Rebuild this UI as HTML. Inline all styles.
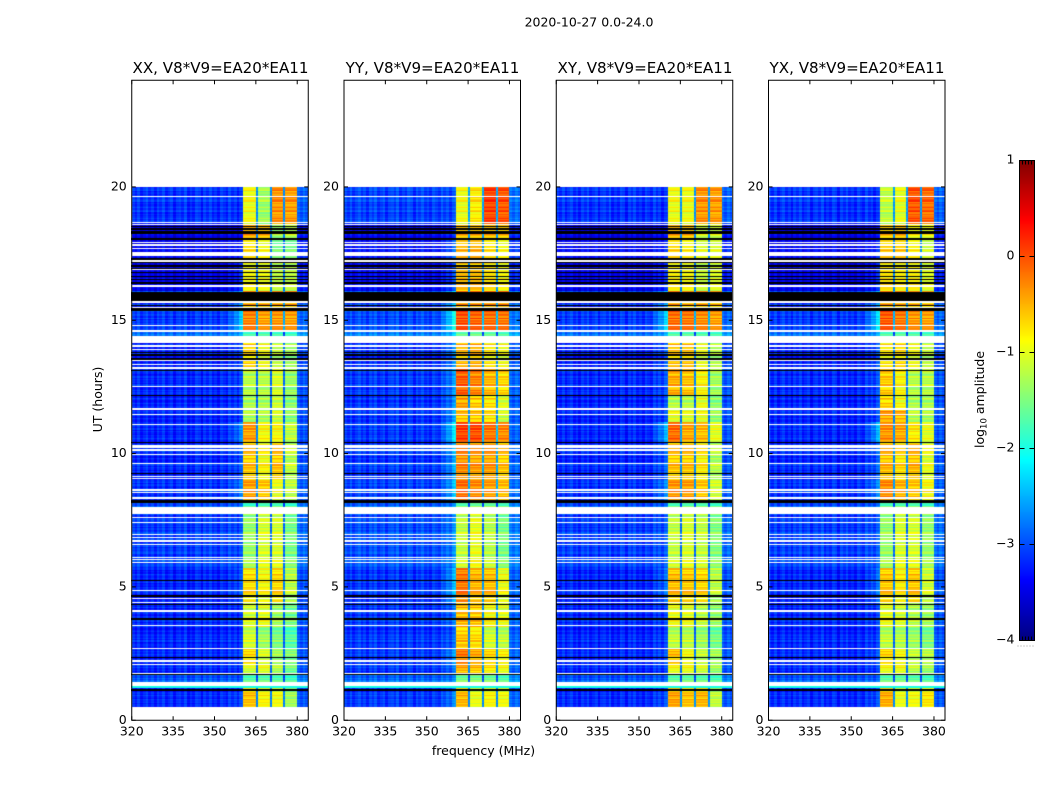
<!DOCTYPE html>
<html lang="en">
<head>
<meta charset="utf-8">
<title>2020-10-27 0.0-24.0 dynamic spectra</title>
<style>
html,body{margin:0;padding:0;background:#fff;}
#figure{position:relative;width:1050px;height:800px;overflow:hidden;background:#fff;}
canvas{position:absolute;display:block;}
svg{position:absolute;left:0;top:0;}
text{font-family:"DejaVu Sans","Liberation Sans",sans-serif;fill:#000;}
</style>
</head>
<body>
<div id="figure">
<canvas id="heat0"></canvas>
<canvas id="heat1"></canvas>
<canvas id="heat2"></canvas>
<canvas id="heat3"></canvas>
<canvas id="cbar"></canvas>
<svg id="overlay" width="1050" height="800" viewBox="0 0 1050 800">
<text x="589" y="26.5" font-size="12.5" text-anchor="middle">2020-10-27 0.0-24.0</text>
<text x="220.5" y="73" font-size="15.1" text-anchor="middle">XX, V8*V9=EA20*EA11</text>
<text x="432.5" y="73" font-size="15.1" text-anchor="middle">YY, V8*V9=EA20*EA11</text>
<text x="645" y="73" font-size="15.1" text-anchor="middle">XY, V8*V9=EA20*EA11</text>
<text x="857" y="73" font-size="15.1" text-anchor="middle">YX, V8*V9=EA20*EA11</text>
<text x="483.5" y="755" font-size="12.5" text-anchor="middle">frequency (MHz)</text>
<text transform="translate(102,399.5) rotate(-90)" font-size="12.5" text-anchor="middle">UT (hours)</text>
<text transform="translate(984,399.5) rotate(-90)" font-size="12.5" text-anchor="middle">log<tspan font-size="8.5" dy="2.5">10</tspan><tspan dy="-2.5"> amplitude</tspan></text>
</svg>
</div>
<script>
// ---------- Chart data ----------
const panelNames = ['xx', 'yy', 'xy', 'yx'];
const xTicks = [320, 335, 350, 365, 380];
const yTicks = [0, 5, 10, 15, 20];
const colorTicks = [1, 0, -1, -2, -3, -4];

// Start hour of each time segment; the panel level tables below have one row per segment.
const segmentStart = [0.5,1.1,1.42,1.75,2.1,2.7,3.5,4.4,5.7,7.75,8.0,8.25,9.0,10.4,11.2,11.7,12.2,13.2,14.15,14.4,14.6,15.4,16.1,17.2,18.0,18.6];

// log10 amplitude of each of the four sub-bands, per segment.
const xxLevels = [[-.6,-.88,-.95,-1.35],[-.6,-.88,-.95,-1.35],[-1.75,-1.7,-1.75,-1.85],[-1.1,-1.0,-1.25,-1.55],[-.75,-1.1,-1.35,-1.5],[-1.1,-1.35,-1.5,-1.7],[-1.1,-1.0,-1.35,-1.55],[-.72,-.88,-.68,-1.2],[-1.4,-1.1,-1.1,-1.55],[-1.4,-1.1,-1.1,-1.55],[-1.8,-1.7,-1.7,-1.8],[-.4,-.6,-1.0,-1.2],[-.6,-.88,-.6,-1.2],[-.4,-.88,-.88,-1.2],[-1.25,-1.25,-1.1,-1.4],[-1.25,-1.25,-1.1,-1.4],[-1.25,-1.25,-1.1,-1.4],[-.7,-.95,-1.2,-1.35],[-.7,-.95,-1.2,-1.35],[-1.65,-1.6,-1.65,-1.7],[-.25,-.4,-.35,-.4],[-.45,-.45,-.45,-.45],[-.95,-1.0,-1.25,-1.25],[-.7,-.88,-1.5,-1.5],[-.45,-.55,-1.35,-1.2],[-.95,-1.35,-.35,-.4]];
const yyLevels = [[-.55,-1.0,-.88,-.95],[-.55,-1.0,-.88,-.95],[-1.6,-1.55,-1.6,-1.75],[-.5,-.6,-.8,-.95],[-.25,-.5,-.72,-.88],[-.6,-.72,-1.1,-1.2],[-.55,-.6,-.88,-1.0],[-.2,-.5,-.55,-.95],[-1.2,-1.0,-1.25,-1.55],[-1.2,-1.0,-1.25,-1.55],[-1.65,-1.55,-1.55,-1.7],[-.15,-.3,-.4,-.55],[-.3,-.4,-.4,-.6],[.05,0,-.2,-.3],[-.55,-.6,-.72,-1.1],[-.4,-.6,-.72,-1.0],[-.1,-.3,-.55,-.72],[-.55,-.5,-.8,-.95],[-.55,-.5,-.8,-.95],[-1.5,-1.45,-1.5,-1.6],[0,-.1,-.15,-.2],[-.35,-.35,-.35,-.35],[-.6,-.6,-.8,-.95],[-.5,-.45,-.72,-.88],[-.55,-.55,-.55,-.6],[-.95,-.8,.05,-.05]];
const xyLevels = [[-.45,-.6,-.55,-1.2],[-.45,-.6,-.55,-1.2],[-1.7,-1.65,-1.7,-1.8],[-.95,-.95,-1.1,-1.35],[-.6,-.95,-1.2,-1.35],[-1.2,-1.2,-1.35,-1.55],[-.95,-1.0,-1.2,-1.4],[-.55,-.6,-.68,-1.2],[-1.2,-1.1,-1.2,-1.5],[-1.2,-1.1,-1.2,-1.5],[-1.7,-1.65,-1.65,-1.75],[-.35,-.4,-.6,-1.1],[-.6,-.6,-.8,-1.25],[-.15,-.45,-.55,-1.0],[-.95,-1.0,-.95,-1.35],[-1.2,-1.2,-.95,-1.4],[-.5,-.6,-.88,-1.35],[-.6,-.6,-1.0,-1.25],[-.6,-.6,-1.0,-1.25],[-1.6,-1.55,-1.6,-1.65],[-.15,-.2,-.3,-.4],[-.4,-.5,-.45,-.55],[-.88,-.95,-1.2,-1.1],[-.65,-.8,-1.0,-1.0],[-.5,-.55,-1.1,-1.1],[-.95,-.95,-.35,-.4]];
const yxLevels = [[-.5,-1.0,-.95,-.8],[-.5,-1.0,-.95,-.8],[-1.7,-1.65,-1.7,-1.8],[-.95,-.95,-1.2,-1.35],[-.72,-.95,-1.2,-1.25],[-1.2,-1.25,-1.35,-1.5],[-1.0,-1.1,-1.25,-1.35],[-.6,-.8,-.6,-1.1],[-1.4,-1.1,-1.1,-1.4],[-1.4,-1.1,-1.1,-1.4],[-1.7,-1.65,-1.65,-1.75],[-.3,-.5,-.6,-.88],[-.55,-.72,-.55,-1.0],[-.35,-.45,-.8,-1.0],[-.4,-.5,-1.2,-1.25],[-.65,-.88,-1.25,-1.25],[-.65,-.88,-1.25,-1.25],[-.8,-.72,-.95,-1.2],[-.8,-.72,-.95,-1.2],[-1.6,-1.55,-1.6,-1.65],[-.05,-.2,-.35,-.4],[-.4,-.45,-.5,-.6],[-.8,-.88,-.88,-1.1],[-.6,-.6,-.8,-1.1],[-.6,-.55,-.88,-.95],[-1.2,-1.0,-.05,-.15]];

// Background level per segment, and the extra log10 amplitude of the tail below the band, per panel.
const backgroundLevels = [-3.2,-3.2,-3.0,-3.2,-3.2,-3.2,-3.2,-3.2,-3.1,-3.1,-3.0,-3.15,-3.2,-3.2,-3.2,-3.2,-3.2,-3.25,-3.25,-2.75,-3.1,-3.15,-3.5,-3.4,-3.5,-3.15];
const xxTail = [.2,.2,0,.1,.2,.1,.1,.3,.1,0,.2,.5,.3,.6,.2,.2,.2,.3,.3,.4,.9,.6,.4,.2,.1,0];
const yyTail = [.5,.5,.2,.4,.6,.3,.4,.8,.4,0,.3,.8,.7,1.1,.7,.6,.6,.6,.6,.5,1.2,.8,.5,.6,.3,.1];
const xyTail = [.3,.3,.1,.2,.3,.2,.2,.5,.2,0,.2,.6,.4,.9,.3,.3,.3,.4,.4,.4,1.0,.7,.4,.3,.2,0];
const yxTail = [.3,.3,.1,.2,.3,.2,.2,.5,.2,0,.2,.6,.4,.9,.3,.3,.3,.4,.4,.4,1.1,.7,.4,.3,.2,0];
const panelOffsets = [0, 0.08, 0, 0];

// Sub-band edges in MHz, and a per-MHz background pattern (320-383 MHz).
const subBandStarts = [360.5, 365.75, 370.75, 375.75];
const subBandEnds = [365, 370, 375, 380];
const channelBackground = [.08,-.07,.14,-.12,.03,.15,-.08,.07,-.15,.11,-.03,.16,-.11,.01,.12,-.16,.05,.1,-.05,.18,-.14,.03,-.1,.14,.07,-.18,.11,-.04,.15,-.08,.04,-.14,.12,.01,-.11,.16,-.05,.08,-.15,.05,.07,-.1,.14,-.07,.01,.11,-.14,.08,-.04,.14,.03,-.11,.1,-.07,.12,.04,-.08,.14,-.03,.07,.28,.14,.32,.18];
const tailShape = [0,0,0,0,0,.05,.1,.25,.4,.6,.75,.85];

// Row-to-row amplitude digits (0-9, 4.5 is neutral), one per 0.05 h row from 0.5 h upward.
const rowStreak = ('362758149360725816493827150639482715'+'036948271563092847516302947185360274'+
 '819263750418269357140862735914072683'+'591470286351947028635194260738159402'+
 '736815924073681529460371852946037158'+'294613708259461370825946137082594613'+
 '708259164738205916473820591647382059'+'164738250916473825091647382509164738'+
 '250916738425091673842509167384250916'+'738425917384259173842591738425917384'+
 '251973842519738425197384251973842519738425197384251973842519').split('').map(Number);

// Flagged rows, in hours.
const whiteLines = [2.1,2.225,1.75,2.69,3.56,4.09,4.41,4.56,4.86,5.925,6.025,6.1,6.59,6.725,6.85,6.975,7.41,7.6,8.33,8.55,8.63,9.07,9.15,9.625,9.97,10.13,10.24,10.31,11.09,11.46,11.68,12.51,13.21,13.35,13.5,13.9,14.04,14.6,14.8,15.475,15.69,16.29,16.91,17.225,17.45,17.525,17.7,17.825,17.925,18.6,18.675,19.64];
const whiteBlocks = [[1.285,1.42],[7.75,8.0],[14.15,14.4]];
const blackLines = [1.71,2.35,3.8,4.35,4.66,5.24,9.25,9.96,10.42,12.17,13.12,13.55,13.7,13.8,16.53,16.65,16.79,16.93,17.04,17.16,18.42,18.51];
const blackBlocks = [[1.1,1.185],[8.15,8.26],[15.35,15.45],[15.52,15.57],[15.71,16.06],[16.35,16.44],[17.27,17.35],[18.0,18.1],[18.22,18.35]];
const cyanBlocks = [[1.2,1.285]];
const cyanLevel = -2.0;
const dipLevel = -2.7;

// ---------- Geometry ----------
const plotLefts = [131.75, 344, 556.25, 768.5];
const plotWidth = 176.5;
const plotTop = 80.25;
const plotHeight = 640;
const xMin = 320, xMax = 384, yMin = 0, yMax = 24;
const levelTables = [xxLevels, yyLevels, xyLevels, yxLevels];
const tailTables = [xxTail, yyTail, xyTail, yxTail];
function xAxis(p, f) { return plotLefts[p] + (f - xMin) / (xMax - xMin) * plotWidth; }
function yAxis(h) { return plotTop + plotHeight - (h - yMin) / (yMax - yMin) * plotHeight; }

// jet colormap spanning log10 amplitude -4..1
function clip01(v) { return Math.max(0, Math.min(1, v)); }
function jet(v) {
  const t = clip01((v + 4) / 5);
  const r = clip01(Math.min(4 * t - 1.5, -4 * t + 4.5));
  const g = clip01(Math.min(4 * t - 0.5, -4 * t + 3.5));
  const b = clip01(Math.min(4 * t + 0.5, -4 * t + 2.5));
  return 'rgb(' + Math.round(r * 255) + ',' + Math.round(g * 255) + ',' + Math.round(b * 255) + ')';
}
function segmentIndex(h) {
  let s = 0;
  for (let i = 0; i < segmentStart.length; i++) { if (segmentStart[i] <= h + 1e-6) s = i; }
  return s;
}
function subBandIndex(f) {
  for (let i = 0; i < subBandStarts.length; i++) { if (f >= subBandStarts[i] && f < subBandEnds[i]) return i; }
  return -1;
}
function cellValue(p, s, row, f) {
  const streak = (rowStreak[row % rowStreak.length] - 4.5) * 0.055;
  const levels = levelTables[p][s];
  const sb = subBandIndex(f);
  if (sb >= 0) return levels[sb] + streak;
  if (f >= 360.5 && f < 380) {
    const mean = (levels[0] + levels[1] + levels[2] + levels[3]) / 4;
    return dipLevel + (mean + 0.8) * 0.4 + streak * 0.5;
  }
  const mhz = Math.floor(f - xMin);
  let v = backgroundLevels[s] + panelOffsets[p] + channelBackground[mhz] + streak * 0.6;
  if (f >= 349 && f < 360.5) v += tailTables[p][s] * tailShape[Math.min(11, Math.floor(f - 349))];
  return v;
}

// ---------- Heatmaps ----------
function fillHours(ctx, h0, h1, width, color) {
  const y0 = Math.round(yAxis(h1) - Math.floor(plotTop));
  const y1 = Math.round(yAxis(h0) - Math.floor(plotTop));
  ctx.fillStyle = color;
  ctx.fillRect(0, y0, width, Math.max(1, y1 - y0));
}
function drawHeatmap(p) {
  const canvas = document.getElementById('heat' + p);
  const left = Math.floor(plotLefts[p]);
  const width = Math.floor(plotLefts[p] + plotWidth) - left;
  const top = Math.floor(plotTop);
  canvas.width = width;
  canvas.height = plotHeight;
  canvas.style.left = left + 'px';
  canvas.style.top = top + 'px';
  const ctx = canvas.getContext('2d');
  ctx.fillStyle = '#fff';
  ctx.fillRect(0, 0, width, plotHeight);
  const rowCount = Math.round((20 - segmentStart[0]) / 0.05);
  const channelCount = (xMax - xMin) * 4;
  for (let row = 0; row < rowCount; row++) {
    const h = segmentStart[0] + row * 0.05;
    const s = segmentIndex(h);
    const y0 = Math.round(yAxis(h + 0.05) - top);
    const y1 = Math.round(yAxis(h) - top);
    for (let c = 0; c < channelCount; c++) {
      const f = xMin + c * 0.25;
      const x0 = Math.round(xAxis(p, f) - left);
      const x1 = Math.round(xAxis(p, f + 0.25) - left);
      if (x1 <= x0) continue;
      ctx.fillStyle = jet(cellValue(p, s, row, f));
      ctx.fillRect(x0, y0, x1 - x0, y1 - y0);
    }
  }
  cyanBlocks.forEach(function (b) { fillHours(ctx, b[0], b[1], width, jet(cyanLevel)); });
  blackBlocks.forEach(function (b) { fillHours(ctx, b[0], b[1], width, '#000'); });
  whiteBlocks.forEach(function (b) { fillHours(ctx, b[0], b[1], width, '#fff'); });
  blackLines.forEach(function (h) { fillHours(ctx, h - 0.028, h + 0.028, width, '#000'); });
  whiteLines.forEach(function (h) { fillHours(ctx, h - 0.027, h + 0.027, width, '#fff'); });
}
for (let p = 0; p < panelNames.length; p++) drawHeatmap(p);

// ---------- Axes ----------
const SVGNS = 'http://www.w3.org/2000/svg';
const overlay = document.getElementById('overlay');
function addLine(x1, y1, x2, y2, name, width) {
  const el = document.createElementNS(SVGNS, 'line');
  el.setAttribute('x1', x1);
  el.setAttribute('y1', y1);
  el.setAttribute('x2', x2);
  el.setAttribute('y2', y2);
  el.setAttribute('stroke', '#000');
  el.setAttribute('stroke-width', width || 1);
  
  
  overlay.appendChild(el);
}
function addLabel(x, y, content, anchor, name) {
  const el = document.createElementNS(SVGNS, 'text');
  el.setAttribute('x', x);
  el.setAttribute('y', y);
  el.setAttribute('font-size', '12.5');
  el.setAttribute('text-anchor', anchor);
  
  
  el.textContent = content;
  overlay.appendChild(el);
}
function addFrame(x, y, w, h, name) {
  const el = document.createElementNS(SVGNS, 'rect');
  el.setAttribute('x', x);
  el.setAttribute('y', y);
  el.setAttribute('width', w);
  el.setAttribute('height', h);
  el.setAttribute('fill', 'none');
  el.setAttribute('stroke', '#000');
  el.setAttribute('stroke-width', '1');
  
  
  overlay.appendChild(el);
}
for (let p = 0; p < panelNames.length; p++) {
  const left = plotLefts[p];
  const right = left + plotWidth;
  const top = plotTop;
  const bottom = plotTop + plotHeight;
  addFrame(left, top, plotWidth, plotHeight, panelNames[p] + '-axes-frame');
  xTicks.forEach(function (t) {
    const x = xAxis(p, t);
    addLine(x, bottom, x, bottom - 4, panelNames[p] + '-x-tick');
    addLine(x, top, x, top + 4, panelNames[p] + '-x-tick-top');
    addLabel(x, bottom + 15, String(t), 'middle', panelNames[p] + '-x-tick-label');
  });
  yTicks.forEach(function (t) {
    const y = yAxis(t);
    addLine(left, y, left + 4, y, panelNames[p] + '-y-tick');
    addLine(right, y, right - 4, y, panelNames[p] + '-y-tick-right');
    addLabel(left - 5, y + 3.5, String(t), 'end', panelNames[p] + '-y-tick-label');
  });
}

// ---------- Colorbar ----------
const cbLeft = 1019.5, cbWidth = 15, cbTop = 160.5, cbHeight = 480;
const cbMin = -4, cbMax = 1;
function cbAxis(v) { return cbTop + (cbMax - v) / (cbMax - cbMin) * cbHeight; }
(function () {
  const canvas = document.getElementById('cbar');
  canvas.width = Math.round(cbWidth);
  canvas.height = cbHeight;
  canvas.style.left = Math.floor(cbLeft) + 'px';
  canvas.style.top = Math.floor(cbTop) + 'px';
  const ctx = canvas.getContext('2d');
  for (let y = 0; y < cbHeight; y++) {
    ctx.fillStyle = jet(cbMax - (y + 0.5) / cbHeight * (cbMax - cbMin));
    ctx.fillRect(0, y, canvas.width, 1);
  }
})();
addFrame(cbLeft, cbTop, cbWidth, cbHeight, 'colorbar-frame');
colorTicks.forEach(function (t) {
  const y = cbAxis(t);
  addLine(cbLeft, y, cbLeft + 5, y, 'colorbar-tick');
  addLine(cbLeft + cbWidth, y, cbLeft + cbWidth - 5, y, 'colorbar-tick-right');
  const text = t < 0 ? '\u2212' + Math.abs(t) : String(t);
  addLabel(cbLeft - 5, y + 3, text, 'end', 'colorbar-tick-label');
});
const cbEdgeTickSteps = [0, 1, 2, 3, 4, 5];
cbEdgeTickSteps.forEach(function (s) {
  const x = cbLeft + s * cbWidth / 5;
  addLine(x, cbTop, x, cbTop + 4, 'colorbar-top-tick');
  addLine(x, cbTop + cbHeight, x, cbTop + cbHeight - 4, 'colorbar-bottom-tick');
  const dot = document.createElementNS(SVGNS, 'rect');
  dot.setAttribute('x', x - 2);
  dot.setAttribute('y', cbTop + cbHeight + 5);
  dot.setAttribute('width', 1);
  dot.setAttribute('height', 1);
  dot.setAttribute('fill', '#999');
  
  
  overlay.appendChild(dot);
});
</script>
</body>
</html>
